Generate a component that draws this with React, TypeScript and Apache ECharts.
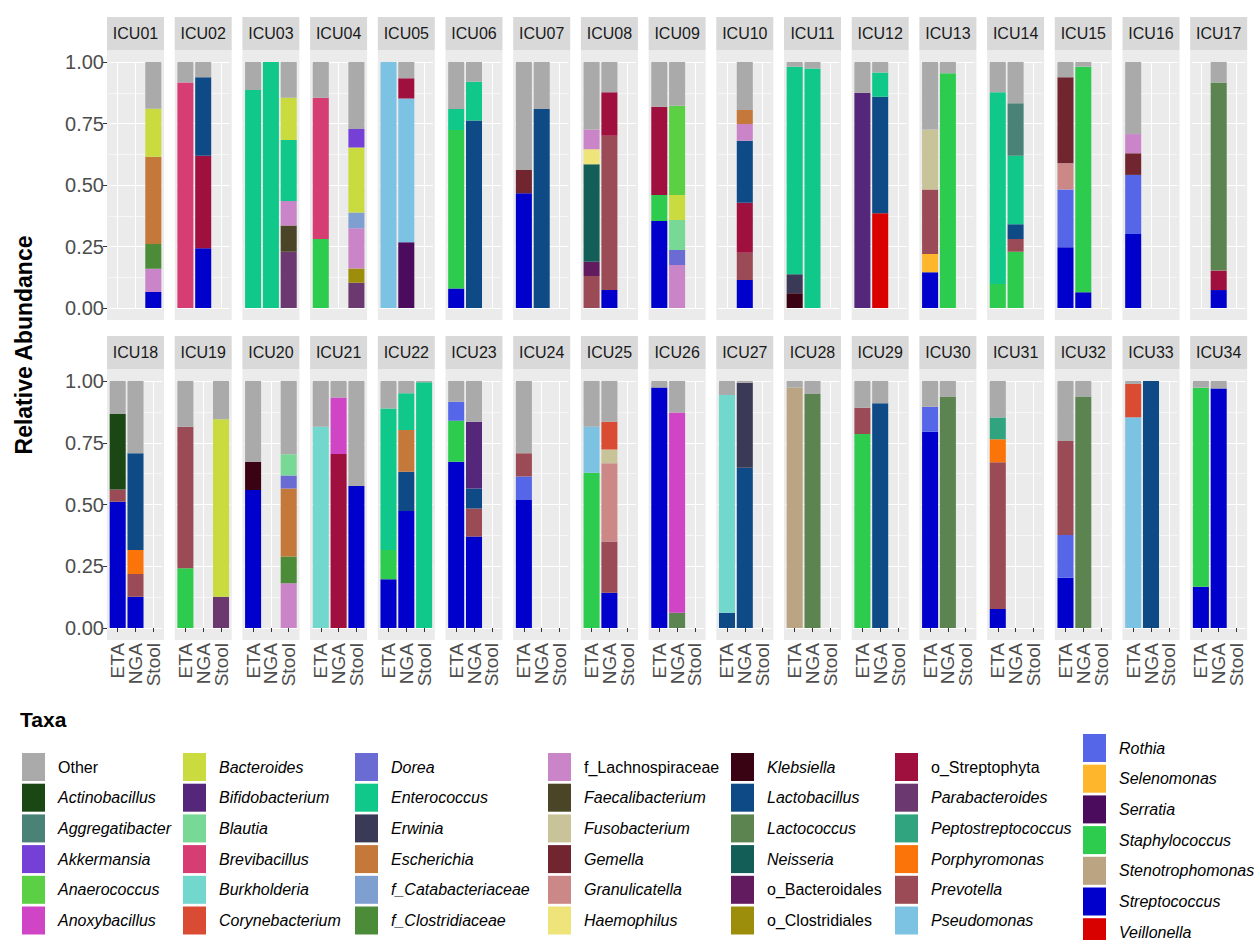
import React, { useEffect, useRef } from "react";
import * as echarts from "echarts";

// ---------------- DATA ----------------
const taxa = [
  "Other", "Actinobacillus", "Aggregatibacter", "Akkermansia", "Anaerococcus", "Anoxybacillus",
  "Bacteroides", "Bifidobacterium", "Blautia", "Brevibacillus", "Burkholderia", "Corynebacterium",
  "Dorea", "Enterococcus", "Erwinia", "Escherichia", "f_Catabacteriaceae", "f_Clostridiaceae",
  "f_Lachnospiraceae", "Faecalibacterium", "Fusobacterium", "Gemella", "Granulicatella", "Haemophilus",
  "Klebsiella", "Lactobacillus", "Lactococcus", "Neisseria", "o_Bacteroidales", "o_Clostridiales",
  "o_Streptophyta", "Parabacteroides", "Peptostreptococcus", "Porphyromonas", "Prevotella", "Pseudomonas",
  "Rothia", "Selenomonas", "Serratia", "Staphylococcus", "Stenotrophomonas", "Streptococcus", "Veillonella",
];
const taxaColors = [
  "#AAAAAA", "#1B4714", "#4A8277", "#7440D6", "#5BD045", "#CF45C6",
  "#CADB3F", "#54277B", "#78D895", "#D63D73", "#72D7CD", "#DA4B33",
  "#6A6CD4", "#0FC88A", "#3B3A56", "#C4793A", "#7E9FD0", "#4C8B38",
  "#C985C8", "#4A4526", "#C9C39A", "#71252E", "#CC8787", "#EEE47A",
  "#3A0314", "#0E4A85", "#5C8451", "#135F57", "#611B5E", "#9C8D0B",
  "#A0103F", "#6B386F", "#2FA47F", "#FB7409", "#9B4B55", "#7CC2E3",
  "#5566E9", "#FEB72D", "#4C0C5D", "#2ECC4E", "#BBA482", "#0000CC", "#D90000",
];
const uprightTaxa = ["Other", "f_Lachnospiraceae", "o_Bacteroidales", "o_Clostridiales", "o_Streptophyta"];
const samples = ["ETA", "NGA", "Stool"];
const yTickLabels = ["0.00", "0.25", "0.50", "0.75", "1.00"];

// Compositions listed from the bottom of each bar upwards
const ICU01 = { ETA: [], NGA: [], Stool: [["Streptococcus", 0.065], ["f_Lachnospiraceae", 0.095], ["f_Clostridiaceae", 0.10], ["Escherichia", 0.355], ["Bacteroides", 0.195], ["Other", 0.19]] };
const ICU02 = { ETA: [["Brevibacillus", 0.917], ["Other", 0.083]], NGA: [["Streptococcus", 0.243], ["o_Streptophyta", 0.376], ["Lactobacillus", 0.319], ["Other", 0.062]], Stool: [] };
const ICU03 = { ETA: [["Enterococcus", 0.886], ["Other", 0.114]], NGA: [["Enterococcus", 1.0]], Stool: [["Parabacteroides", 0.229], ["Faecalibacterium", 0.106], ["f_Lachnospiraceae", 0.10], ["Enterococcus", 0.248], ["Bacteroides", 0.172], ["Other", 0.145]] };
const ICU04 = { ETA: [["Staphylococcus", 0.28], ["Brevibacillus", 0.575], ["Other", 0.145]], NGA: [], Stool: [["Parabacteroides", 0.103], ["o_Clostridiales", 0.058], ["f_Lachnospiraceae", 0.163], ["f_Catabacteriaceae", 0.064], ["Bacteroides", 0.264], ["Akkermansia", 0.076], ["Other", 0.272]] };
const ICU05 = { ETA: [["Pseudomonas", 1.0]], NGA: [["Serratia", 0.267], ["Pseudomonas", 0.585], ["o_Streptophyta", 0.082], ["Other", 0.066]], Stool: [] };
const ICU06 = { ETA: [["Streptococcus", 0.079], ["Staphylococcus", 0.645], ["Enterococcus", 0.085], ["Other", 0.191]], NGA: [["Lactobacillus", 0.762], ["Enterococcus", 0.158], ["Other", 0.08]], Stool: [] };
const ICU07 = { ETA: [["Streptococcus", 0.466], ["Gemella", 0.095], ["Other", 0.439]], NGA: [["Lactobacillus", 0.809], ["Other", 0.191]], Stool: [] };
const ICU08 = { ETA: [["Prevotella", 0.13], ["o_Bacteroidales", 0.058], ["Neisseria", 0.396], ["Haemophilus", 0.061], ["f_Lachnospiraceae", 0.081], ["Other", 0.274]], NGA: [["Streptococcus", 0.073], ["Prevotella", 0.627], ["o_Streptophyta", 0.177], ["Other", 0.123]], Stool: [] };
const ICU09 = { ETA: [["Streptococcus", 0.354], ["Staphylococcus", 0.105], ["o_Streptophyta", 0.359], ["Other", 0.182]], NGA: [["f_Lachnospiraceae", 0.175], ["Dorea", 0.061], ["Blautia", 0.122], ["Bacteroides", 0.101], ["Anaerococcus", 0.363], ["Other", 0.178]], Stool: [] };
const ICU10 = { ETA: [], NGA: [["Streptococcus", 0.114], ["Prevotella", 0.111], ["o_Streptophyta", 0.203], ["Lactobacillus", 0.252], ["f_Lachnospiraceae", 0.068], ["Escherichia", 0.057], ["Other", 0.195]], Stool: [] };
const ICU11 = { ETA: [["Klebsiella", 0.06], ["Erwinia", 0.077], ["Enterococcus", 0.844], ["Other", 0.019]], NGA: [["Enterococcus", 0.974], ["Other", 0.026]], Stool: [] };
const ICU12 = { ETA: [["Bifidobacterium", 0.875], ["Other", 0.125]], NGA: [["Veillonella", 0.385], ["Lactobacillus", 0.474], ["Enterococcus", 0.098], ["Other", 0.043]], Stool: [] };
const ICU13 = { ETA: [["Streptococcus", 0.145], ["Selenomonas", 0.075], ["Prevotella", 0.262], ["Fusobacterium", 0.244], ["Other", 0.274]], NGA: [["Staphylococcus", 0.954], ["Other", 0.046]], Stool: [] };
const ICU14 = { ETA: [["Staphylococcus", 0.098], ["Enterococcus", 0.779], ["Other", 0.123]], NGA: [["Staphylococcus", 0.229], ["Prevotella", 0.051], ["Lactobacillus", 0.06], ["Enterococcus", 0.279], ["Aggregatibacter", 0.213], ["Other", 0.168]], Stool: [] };
const ICU15 = { ETA: [["Streptococcus", 0.247], ["Rothia", 0.235], ["Granulicatella", 0.106], ["Gemella", 0.35], ["Other", 0.062]], NGA: [["Streptococcus", 0.064], ["Staphylococcus", 0.917], ["Other", 0.019]], Stool: [] };
const ICU16 = { ETA: [["Streptococcus", 0.301], ["Rothia", 0.24], ["Gemella", 0.088], ["f_Lachnospiraceae", 0.078], ["Other", 0.293]], NGA: [], Stool: [] };
const ICU17 = { ETA: [], NGA: [["Streptococcus", 0.073], ["o_Streptophyta", 0.079], ["Lactococcus", 0.765], ["Other", 0.083]], Stool: [] };
const ICU18 = { ETA: [["Streptococcus", 0.511], ["Prevotella", 0.05], ["Actinobacillus", 0.305], ["Other", 0.134]], NGA: [["Streptococcus", 0.127], ["Prevotella", 0.092], ["Porphyromonas", 0.097], ["Lactobacillus", 0.391], ["Other", 0.293]], Stool: [] };
const ICU19 = { ETA: [["Staphylococcus", 0.242], ["Prevotella", 0.573], ["Other", 0.185]], NGA: [], Stool: [["Parabacteroides", 0.127], ["Bacteroides", 0.718], ["Other", 0.155]] };
const ICU20 = { ETA: [["Streptococcus", 0.559], ["Klebsiella", 0.113], ["Other", 0.328]], NGA: [], Stool: [["f_Lachnospiraceae", 0.181], ["f_Clostridiaceae", 0.108], ["Escherichia", 0.276], ["Dorea", 0.052], ["Blautia", 0.086], ["Other", 0.297]] };
const ICU21 = { ETA: [["Burkholderia", 0.815], ["Other", 0.185]], NGA: [["o_Streptophyta", 0.704], ["Anoxybacillus", 0.229], ["Other", 0.067]], Stool: [["Streptococcus", 0.575], ["Other", 0.425]] };
const ICU22 = { ETA: [["Streptococcus", 0.197], ["Staphylococcus", 0.119], ["Enterococcus", 0.573], ["Other", 0.111]], NGA: [["Streptococcus", 0.474], ["Lactobacillus", 0.159], ["Escherichia", 0.169], ["Enterococcus", 0.148], ["Other", 0.05]], Stool: [["Enterococcus", 0.995], ["Other", 0.005]] };
const ICU23 = { ETA: [["Streptococcus", 0.673], ["Staphylococcus", 0.166], ["Rothia", 0.077], ["Other", 0.084]], NGA: [["Streptococcus", 0.37], ["Prevotella", 0.114], ["Lactobacillus", 0.081], ["Bifidobacterium", 0.27], ["Other", 0.165]], Stool: [] };
const ICU24 = { ETA: [["Streptococcus", 0.518], ["Rothia", 0.095], ["Prevotella", 0.094], ["Other", 0.293]], NGA: [], Stool: [] };
const ICU25 = { ETA: [["Staphylococcus", 0.629], ["Pseudomonas", 0.186], ["Other", 0.185]], NGA: [["Streptococcus", 0.143], ["Prevotella", 0.207], ["Granulicatella", 0.317], ["Fusobacterium", 0.056], ["Corynebacterium", 0.112], ["Other", 0.165]], Stool: [] };
const ICU26 = { ETA: [["Streptococcus", 0.974], ["Other", 0.026]], NGA: [["Lactococcus", 0.062], ["Anoxybacillus", 0.81], ["Other", 0.128]], Stool: [] };
const ICU27 = { ETA: [["Lactobacillus", 0.062], ["Burkholderia", 0.881], ["Other", 0.057]], NGA: [["Lactobacillus", 0.649], ["Erwinia", 0.344], ["Other", 0.007]], Stool: [] };
const ICU28 = { ETA: [["Stenotrophomonas", 0.974], ["Other", 0.026]], NGA: [["Lactococcus", 0.947], ["Other", 0.053]], Stool: [] };
const ICU29 = { ETA: [["Staphylococcus", 0.785], ["Prevotella", 0.107], ["Other", 0.108]], NGA: [["Lactobacillus", 0.91], ["Other", 0.09]], Stool: [] };
const ICU30 = { ETA: [["Streptococcus", 0.795], ["Rothia", 0.101], ["Other", 0.104]], NGA: [["Lactococcus", 0.937], ["Other", 0.063]], Stool: [] };
const ICU31 = { ETA: [["Streptococcus", 0.077], ["Prevotella", 0.594], ["Porphyromonas", 0.093], ["Peptostreptococcus", 0.088], ["Other", 0.148]], NGA: [], Stool: [] };
const ICU32 = { ETA: [["Streptococcus", 0.204], ["Rothia", 0.173], ["Prevotella", 0.38], ["Other", 0.243]], NGA: [["Lactococcus", 0.937], ["Other", 0.063]], Stool: [] };
const ICU33 = { ETA: [["Pseudomonas", 0.853], ["Corynebacterium", 0.135], ["Other", 0.012]], NGA: [["Lactobacillus", 1.0]], Stool: [] };
const ICU34 = { ETA: [["Streptococcus", 0.167], ["Staphylococcus", 0.806], ["Other", 0.027]], NGA: [["Streptococcus", 0.97], ["Other", 0.03]], Stool: [] };

const icuLabels = [
  "ICU01", "ICU02", "ICU03", "ICU04", "ICU05", "ICU06", "ICU07", "ICU08", "ICU09", "ICU10", "ICU11", "ICU12",
  "ICU13", "ICU14", "ICU15", "ICU16", "ICU17", "ICU18", "ICU19", "ICU20", "ICU21", "ICU22", "ICU23", "ICU24",
  "ICU25", "ICU26", "ICU27", "ICU28", "ICU29", "ICU30", "ICU31", "ICU32", "ICU33", "ICU34",
];
const patients: any[] = [
  ICU01, ICU02, ICU03, ICU04, ICU05, ICU06, ICU07, ICU08, ICU09, ICU10, ICU11, ICU12, ICU13, ICU14, ICU15, ICU16, ICU17,
  ICU18, ICU19, ICU20, ICU21, ICU22, ICU23, ICU24, ICU25, ICU26, ICU27, ICU28, ICU29, ICU30, ICU31, ICU32, ICU33, ICU34,
];

// ---------------- LAYOUT ----------------
const FONT = '"Liberation Sans", Arial, Helvetica, sans-serif';
const PANEL_L0 = 107;
const PANEL_W = 57;
const PANEL_STEP = 67.7;
const STRIP_H = 33;
const EXP = 12;
const ROWS = [
  { top: 50, bottom: 320 },
  { top: 369, bottom: 640 },
];
const PER_ROW = 17;
const LEGEND_COL_X = [22, 183, 355, 548, 731, 895, 1083];
const LEGEND_COLS = [[0, 6], [6, 12], [12, 18], [18, 24], [24, 30], [30, 36], [36, 43]];

function buildOption() {
  const grids: any[] = [];
  const xAxes: any[] = [];
  const yAxes: any[] = [];
  const series: any[] = [];
  const graphics: any[] = [];

  patients.forEach((p, i) => {
    const row = Math.floor(i / PER_ROW);
    const col = i % PER_ROW;
    const pl = PANEL_L0 + col * PANEL_STEP;
    const R = ROWS[row];
    const isBottom = row === 1;
    const isLeft = col === 0;

    graphics.push({
      type: "rect", z: -100, silent: true,
      shape: { x: pl, y: R.top, width: PANEL_W, height: R.bottom - R.top },
      style: { fill: "#EBEBEB" },
    });
    graphics.push({
      type: "rect", z: -100, silent: true,
      shape: { x: pl, y: R.top - STRIP_H, width: PANEL_W, height: STRIP_H },
      style: { fill: "#D9D9D9" },
    });
    graphics.push({
      type: "text", z: 10, silent: true,
      x: pl + PANEL_W / 2, y: R.top - STRIP_H / 2,
      style: {
        text: icuLabels[i], fill: "#1A1A1A", fontSize: 16, fontFamily: FONT,
        textAlign: "center", textVerticalAlign: "middle", align: "center", verticalAlign: "middle",
      },
    });

    const gl = pl + (PANEL_W * 0.1) / 3.2;
    grids.push({
      left: gl, top: R.top + EXP,
      width: (PANEL_W * 3) / 3.2, height: R.bottom - R.top - 2 * EXP,
      containLabel: false, show: false,
    });
    xAxes.push({
      type: "category", gridIndex: i, data: samples, offset: EXP,
      axisLine: { show: false },
      axisTick: { show: isBottom, alignWithLabel: true, length: 4, lineStyle: { color: "#333333", width: 1 } },
      axisLabel: { show: isBottom, rotate: 90, fontSize: 19, color: "#4D4D4D", fontFamily: FONT, margin: 3, interval: 0 },
      splitLine: { show: true, alignWithLabel: true, interval: 0, lineStyle: { color: "#FFFFFF", width: 1.1 } },
    });
    yAxes.push({
      type: "value", gridIndex: i, min: 0, max: 1, interval: 0.25,
      offset: gl - pl,
      axisLine: { show: false },
      axisTick: { show: isLeft, length: 4, lineStyle: { color: "#333333", width: 1 } },
      axisLabel: {
        show: isLeft, fontSize: 20, color: "#4D4D4D", fontFamily: FONT, margin: 3,
        formatter: (v: number) => yTickLabels[Math.round(v / 0.25)] ?? "",
      },
      splitLine: { show: true, lineStyle: { color: "#FFFFFF", width: 1.1 } },
      minorTick: { show: false, splitNumber: 2 },
      minorSplitLine: { show: true, lineStyle: { color: "#FFFFFF", width: 0.55 } },
    });

    for (let t = taxa.length - 1; t >= 0; t--) {
      const name = taxa[t];
      const vals = samples.map((s) => {
        const hit = (p[s] as any[]).find((e) => e[0] === name);
        return hit ? hit[1] : "-";
      });
      if (vals.every((v) => v === "-")) continue;
      series.push({
        type: "bar", name, stack: "s" + i, xAxisIndex: i, yAxisIndex: i,
        barWidth: "90%", data: vals, silent: true,
        itemStyle: { color: taxaColors[t] },
      });
    }
  });

  // Y axis title
  graphics.push({
    type: "text", silent: true, x: 24, y: 345, rotation: Math.PI / 2,
    style: {
      text: "Relative Abundance", fill: "#000000", fontSize: 23, fontWeight: "bold", fontFamily: FONT,
      textAlign: "center", textVerticalAlign: "middle", align: "center", verticalAlign: "middle",
    },
  });
  // Legend title
  graphics.push({
    type: "text", silent: true, x: 20, y: 719,
    style: {
      text: "Taxa", fill: "#000000", fontSize: 21, fontWeight: "bold", fontFamily: FONT,
      textAlign: "left", textVerticalAlign: "middle", align: "left", verticalAlign: "middle",
    },
  });
  // Legend keys
  LEGEND_COLS.forEach(([a, b], c) => {
    const y0 = b - a === 7 ? 748 : 767;
    for (let k = a; k < b; k++) {
      const cy = y0 + (k - a) * 30.7;
      graphics.push({
        type: "rect", silent: true,
        shape: { x: LEGEND_COL_X[c], y: cy - 14, width: 23, height: 28 },
        style: { fill: taxaColors[k] },
      });
      graphics.push({
        type: "text", silent: true, x: LEGEND_COL_X[c] + 36, y: cy,
        style: {
          text: taxa[k], fill: "#000000", fontSize: 16, fontFamily: FONT,
          fontStyle: uprightTaxa.includes(taxa[k]) ? "normal" : "italic",
          textAlign: "left", textVerticalAlign: "middle", align: "left", verticalAlign: "middle",
        },
      });
    }
  });

  return {
    animation: false,
    backgroundColor: "#FFFFFF",
    grid: grids,
    xAxis: xAxes,
    yAxis: yAxes,
    series,
    graphic: { elements: graphics },
  };
}

export default function App() {
  const ref = useRef<HTMLDivElement>(null);
  useEffect(() => {
    if (!ref.current) return;
    const chart = echarts.init(ref.current, undefined, { renderer: "svg" });
    chart.setOption(buildOption() as any);
    return () => chart.dispose();
  }, []);
  return (
    <div
      ref={ref}
      style={{ position: "absolute", left: 0, top: 0, width: 1258, height: 940 }}
    />
  );
}
